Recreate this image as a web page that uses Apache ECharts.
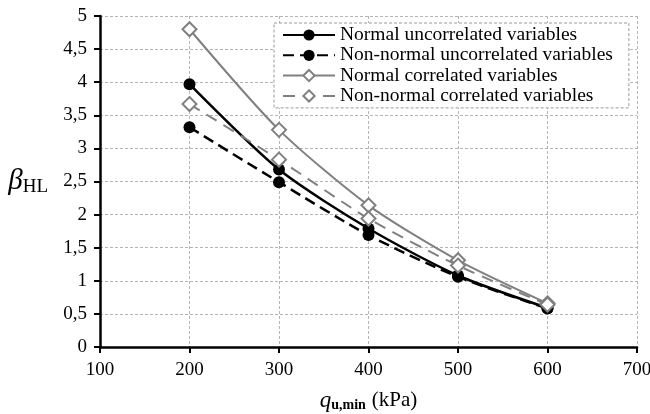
<!DOCTYPE html>
<html><head><meta charset="utf-8">
<script src="https://cdn.jsdelivr.net/npm/echarts@6/dist/echarts.min.js"></script>
<style>html,body{margin:0;padding:0;background:#fff}#c{width:650px;height:414px}</style>
</head><body><div id="c"></div>
<script>
const xValues = [200, 300, 400, 500, 600];
const normalUncorrelated = [3.97, 2.68, 1.79, 1.08, 0.59];
const nonNormalUncorrelated = [3.32, 2.49, 1.69, 1.06, 0.58];
const normalCorrelated = [4.80, 3.28, 2.14, 1.31, 0.66];
const nonNormalCorrelated = [3.67, 2.83, 1.94, 1.23, 0.64];
const seriesNames = ['Normal uncorrelated variables','Non-normal uncorrelated variables','Normal correlated variables','Non-normal correlated variables'];

const font = '"Liberation Serif", "DejaVu Serif", serif';
const pairs = arr => xValues.map((x, i) => [x, arr[i]]);
function mk(name, arr, color, dashed, filled) {
  return {
    name, type: 'line', data: pairs(arr), smooth: 0.25,
    symbol: filled ? 'circle' : 'diamond',
    symbolSize: filled ? 12 : 14,
    itemStyle: { color: filled ? '#000' : '#fff', borderColor: color, borderWidth: filled ? 0 : 2 },
    lineStyle: { color, width: filled ? 2.5 : 2, type: dashed ? (filled ? [11, 6] : [12, 8]) : 'solid' },
    emphasis: { disabled: true }
  };
}
const chart = echarts.init(document.getElementById('c'), null, { renderer: 'canvas' });
chart.setOption({
  animation: false,
  backgroundColor: '#fff',
  textStyle: { fontFamily: font },
  grid: { left: 100, right: 13, top: 16, bottom: 67, containLabel: false, outerBoundsMode: 'none' },
  legend: {
    orient: 'vertical', left: 274, top: 23, width: 356,
    backgroundColor: '#fff',
    borderColor: '#999', borderWidth: 1, borderType: [3, 2],
    padding: [2, 16, 2, 8], itemGap: 0.3,
    itemWidth: 52, itemHeight: 14,
    textStyle: { fontFamily: font, fontSize: 19.5, lineHeight: 20, color: '#000' },
    data: seriesNames
  },
  xAxis: {
    type: 'value', min: 100, max: 700, interval: 100,
    name: '{q|q}{s|u,min}  {n|(kPa)}', nameLocation: 'middle', nameGap: 42,
    nameTextStyle: { rich: {
      q: { fontFamily: font, fontSize: 23, fontStyle: 'italic', color: '#000' },
      s: { fontFamily: font, fontSize: 14, fontWeight: 'bold', color: '#000', verticalAlign: 'bottom', padding: [9, 0, 0, 0] },
      n: { fontFamily: font, fontSize: 21, color: '#000' } } },
    axisLine: { show: true, onZero: false, lineStyle: { color: '#000', width: 2.5 } },
    axisTick: { show: true, length: 6, lineStyle: { color: '#000', width: 2 } },
    axisLabel: { fontFamily: font, fontSize: 19, color: '#000', margin: 14 },
    splitLine: { show: true, lineStyle: { color: '#b4b4b4', type: [3, 2], width: 1 } }
  },
  yAxis: {
    type: 'value', min: 0, max: 5, interval: 0.5,
    name: '{b|β}{s|HL}', nameLocation: 'middle', nameGap: 52, nameRotate: 0,
    nameTextStyle: { rich: {
      b: { fontFamily: font, fontSize: 29, fontStyle: 'italic', color: '#000' },
      s: { fontFamily: font, fontSize: 19, color: '#000', verticalAlign: 'bottom', padding: [12, 0, 0, 0] } } },
    axisLine: { show: true, lineStyle: { color: '#000', width: 2.5 } },
    axisTick: { show: true, length: 6, lineStyle: { color: '#000', width: 2 } },
    axisLabel: { fontFamily: font, fontSize: 19, color: '#000', margin: 13,
      formatter: v => String(v).replace('.', ',') },
    splitLine: { show: true, lineStyle: { color: '#b4b4b4', type: [3, 2], width: 1 } }
  },
  series: [
    mk(seriesNames[0], normalUncorrelated, '#000', false, true),
    mk(seriesNames[1], nonNormalUncorrelated, '#000', true, true),
    mk(seriesNames[2], normalCorrelated, '#808080', false, false),
    mk(seriesNames[3], nonNormalCorrelated, '#808080', true, false)
  ]
});
</script></body></html>
